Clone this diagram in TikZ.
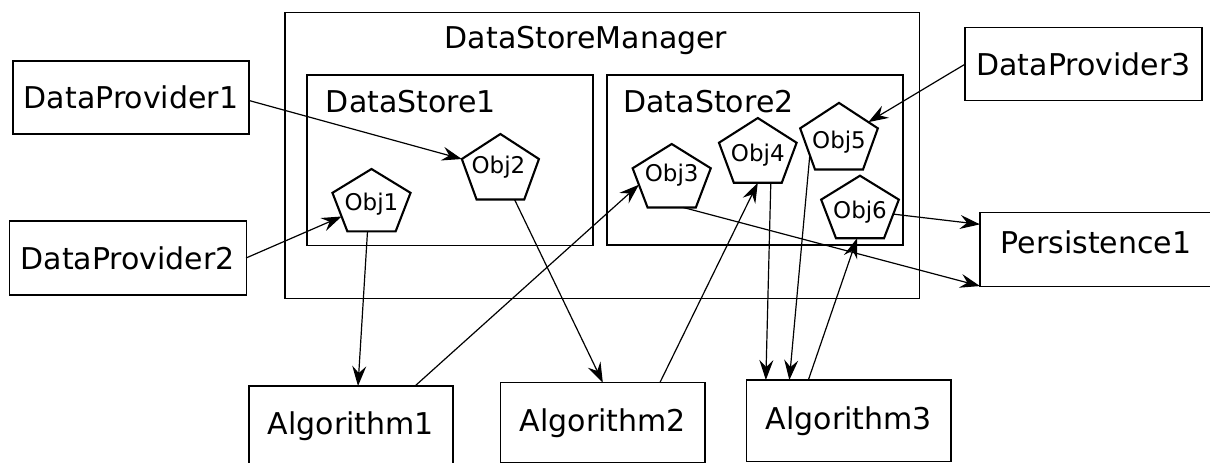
\documentclass[tikz,border=0pt]{standalone}
\usepackage{fontspec}
\setmainfont{DejaVu Sans}
\usepackage{graphicx}
\usetikzlibrary{shapes.geometric,arrows.meta,calc}
\newcommand{\objtext}[3]{\smash{\makebox[0pt]{\raisebox{#2}{\scalebox{#3}[1]{#1}}}}}
\begin{document}
\begin{tikzpicture}[x=1pt,y=-1pt,
  box/.style={draw, line width=1.1pt, inner sep=0pt, outer sep=0pt, font=\fontsize{30pt}{36pt}\selectfont},
  lbl/.style={inner sep=0pt, anchor=base, font=\fontsize{30pt}{36pt}\selectfont},
  pent/.style={regular polygon, regular polygon sides=5, draw, line width=2.1pt, inner sep=0pt, outer sep=0pt, minimum size=#1, transform shape, font=\fontsize{23pt}{27pt}\selectfont},
  arr/.style={line width=1.2pt, -{Stealth[length=20pt,width=14pt,inset=7pt]}}]
\useasboundingbox (0,0) rectangle (1210,463);
\clip (0,0) rectangle (1210,463);

% containers
\node[box, minimum width=634.5pt, minimum height=286pt] (dsm) at (602.25,155.5) {};
\node[lbl] (dsmt) at (586,48.3) {DataStoreManager};
\node[box, minimum width=286pt, minimum height=170.5pt] (ds1) at (450,160.25) {};
\node[lbl] (ds1t) at (411,112.3) {DataStore1};
\node[box, minimum width=296pt, minimum height=170pt] (ds2) at (755,160) {};
\node[lbl] (ds2t) at (708.5,112) {DataStore2};

% outside boxes
\node[box, minimum width=236pt, minimum height=73pt] (dp1) at (131,97.5) {DataProvider1\hspace{10pt}};
\node[box, minimum width=236.7pt, minimum height=74pt] (dp2) at (127.7,258) {DataProvider2};
\node[box, minimum width=237pt, minimum height=73pt] (dp3) at (1083.5,64.2) {DataProvider3};
\node[box, minimum width=232pt, minimum height=73.3pt, text depth=15pt] (p1) at (1096,249.4) {Persistence1};
\node[box, minimum width=204pt, minimum height=80.3pt] (a1) at (351,426.15) {Algorithm1\hspace{14pt}};
\node[box, minimum width=204.3pt, minimum height=80.3pt] (a2) at (602.85,422.85) {Algorithm2\hspace{14.6pt}};
\node[box, minimum width=204.3pt, minimum height=81.7pt] (a3) at (848.85,420.85) {Algorithm3\hspace{14pt}};

% objects
\begin{scope}[shift={(371.5,203.5)},xscale=1.19]
  \node[pent=69pt] (o1) at (0,0) {\objtext{Obj1}{-6.5pt}{0.84}};
\end{scope}
\begin{scope}[shift={(500.4,170.2)},xscale=1.12]
  \node[pent=72.4pt] (o2) at (0,0) {\hspace{-3.5pt}\objtext{Obj2}{-3.1pt}{0.893}};
\end{scope}
\begin{scope}[shift={(671.7,179.1)},xscale=1.17]
  \node[pent=70.2pt] (o3) at (0,0) {\objtext{Obj3}{-2.6pt}{0.855}};
\end{scope}
\begin{scope}[shift={(757.8,153.8)},xscale=1.14]
  \node[pent=71.6pt] (o4) at (0,0) {\objtext{Obj4}{-7.9pt}{0.877}};
\end{scope}
\begin{scope}[shift={(839,139.7)},xscale=1.11]
  \node[pent=73.6pt] (o5) at (0,0) {\objtext{Obj5}{-8.6pt}{0.9}};
\end{scope}
\begin{scope}[shift={(860,210.3)},xscale=1.18]
  \node[pent=69.2pt] (o6) at (0,0) {\objtext{Obj6}{-8pt}{0.847}};
\end{scope}

% connectors
\draw[arr] ([yshift=-3pt]dp1.east) -- (o2.corner 2);
\draw[arr] (dp2.east) -- (o1);
\draw[arr] (dp3.west) -- (o5);
\draw[arr] ([xshift=-4pt]o1.south) -- ([xshift=7pt]a1.north);
\draw[arr] (o2) -- (a2.north);
\draw[arr] ([xshift=64pt]a1.north) -- ($(o3.corner 2)!0.42!(o3.corner 3)$);
\draw[arr] ([xshift=57pt]a2.north) -- (o4.south);
\draw[arr] ([xshift=13pt]o4.south) -- ([xshift=-83pt]a3.north);
\draw[arr] ($(o5.corner 2)!0.65!(o5.corner 3)$) -- ([xshift=-59.5pt]a3.north);
\draw[arr] ([xshift=-40.5pt]a3.north) -- ([xshift=-3pt]o6.south);
\draw[arr] ([xshift=11.6pt]o3.south) -- (p1.south west);
\draw[arr] ($(o6.corner 5)!0.375!(o6.corner 4)$) -- ([yshift=-11.6pt]p1.north west);
\end{tikzpicture}
\end{document}
